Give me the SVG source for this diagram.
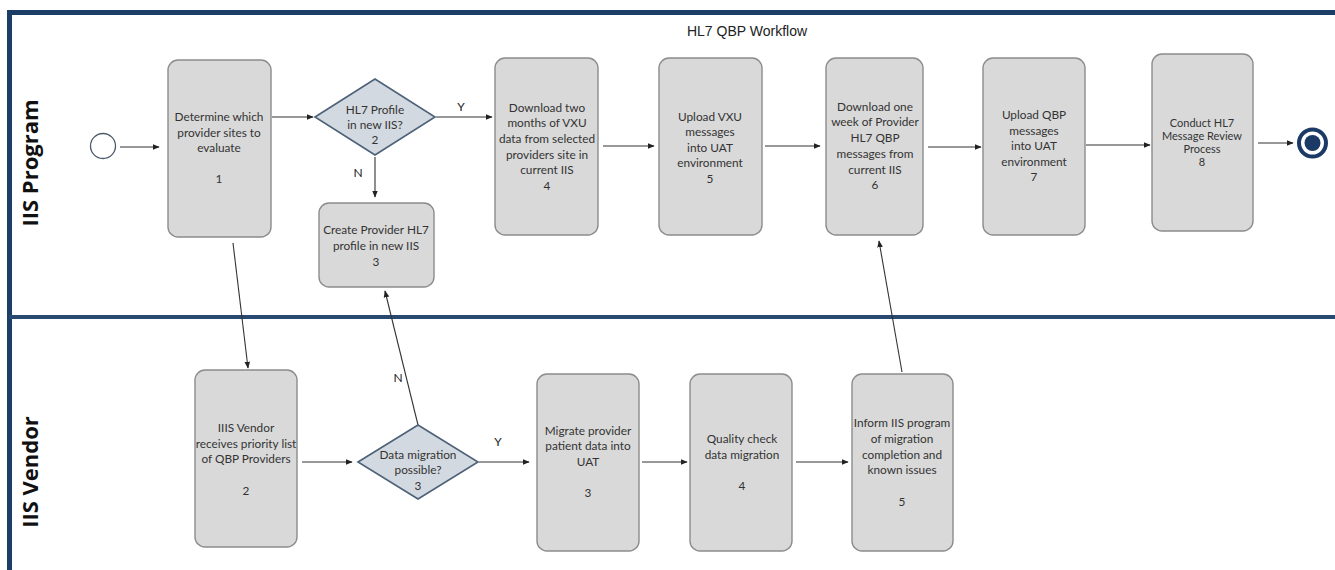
<svg xmlns="http://www.w3.org/2000/svg" width="1335" height="570" viewBox="0 0 1335 570">
<defs>
<marker id="arr" viewBox="0 0 10 10" refX="9" refY="5" markerWidth="7" markerHeight="7" markerUnits="userSpaceOnUse" orient="auto">
<path d="M0,1 L10,5 L0,9 z" fill="#222"/>
</marker>
<style>
.box{fill:#d9d9d9;stroke:#8c8c8c;stroke-width:1.4}
.dia{fill:#d3d9e0;stroke:#4d6178;stroke-width:1.6}
.t{font-family:Lato,"Open Sans","Liberation Sans",sans-serif;font-size:11.8px;fill:#333;text-anchor:middle}
.ts{font-family:Lato,"Open Sans","Liberation Sans",sans-serif;font-size:11px;fill:#333;text-anchor:middle}
.lbl{font-family:Lato,"Liberation Sans",sans-serif;font-size:12px;fill:#222;text-anchor:middle}
.lane{font-family:"Open Sans","Liberation Sans",sans-serif;font-size:22px;font-weight:bold;fill:#111;text-anchor:middle}
.c{stroke:#333;stroke-width:1.1;fill:none;marker-end:url(#arr)}
</style>
</defs>
<rect width="1335" height="570" fill="#fff"/>
<g id="frame">
<path d="M9.5,570 V12.5 H1335" fill="none" stroke="#1c3d66" stroke-width="5"/>
<line x1="9" y1="317" x2="1335" y2="317" stroke="#294a70" stroke-width="4"/>
<text class="lane" x="38" y="163" transform="rotate(-90 38 163)">IIS Program</text>
<text class="lane" x="38" y="472" transform="rotate(-90 38 472)">IIS Vendor</text>
<text x="747" y="36" text-anchor="middle" font-family="'Liberation Sans',Arial,sans-serif" font-size="14" fill="#222">HL7 QBP Workflow</text>
</g>
<g id="connectors">
<line class="c" x1="120" y1="147" x2="159" y2="147"/>
<line class="c" x1="272" y1="117" x2="313" y2="117"/>
<line class="c" x1="375" y1="157" x2="375" y2="197"/>
<line class="c" x1="436" y1="117" x2="492" y2="117"/>
<line class="c" x1="603" y1="146" x2="654" y2="146"/>
<line class="c" x1="765" y1="146" x2="820" y2="146"/>
<line class="c" x1="928" y1="147" x2="981" y2="147"/>
<line class="c" x1="1086" y1="145" x2="1150" y2="145"/>
<line class="c" x1="1258" y1="143" x2="1293" y2="143"/>
<line class="c" x1="233" y1="243" x2="248" y2="368"/>
<line class="c" x1="302" y1="462" x2="352" y2="462"/>
<line class="c" x1="418" y1="425" x2="385" y2="291"/>
<line class="c" x1="479" y1="462" x2="529" y2="462"/>
<line class="c" x1="642" y1="462" x2="687" y2="462"/>
<line class="c" x1="796" y1="462" x2="848" y2="462"/>
<line class="c" x1="902" y1="372" x2="879" y2="241"/>
<text class="lbl" x="358" y="177">N</text>
<text class="lbl" x="461" y="111">Y</text>
<text class="lbl" x="398" y="382">N</text>
<text class="lbl" x="498" y="446">Y</text>
</g>
<g id="start"><circle cx="103" cy="146" r="12.5" fill="#fff" stroke="#4a5a6a" stroke-width="1.3"/></g>
<g id="end"><circle cx="1312.5" cy="143" r="13.5" fill="#fff" stroke="#1b3a66" stroke-width="4"/><circle cx="1312.5" cy="143" r="8" fill="#1b3a66"/></g>
<g id="p1"><rect class="box" x="168" y="60" width="103" height="177" rx="10"/>
<text class="t" x="219"><tspan x="219" y="121">Determine which</tspan><tspan x="219" y="137">provider sites to</tspan><tspan x="219" y="152">evaluate</tspan><tspan x="219" y="183">1</tspan></text></g>
<g id="p2"><polygon class="dia" points="315,117 375,79 435,117 375,155"/>
<text class="t"><tspan x="375" y="114">HL7 Profile</tspan><tspan x="375" y="129">in new IIS?</tspan><tspan x="375" y="144">2</tspan></text></g>
<g id="p3"><rect class="box" x="319" y="203" width="115" height="84" rx="10"/>
<text class="t"><tspan x="376" y="234">Create Provider HL7</tspan><tspan x="376" y="250">profile in new IIS</tspan><tspan x="376" y="266">3</tspan></text></g>
<g id="p4"><rect class="box" x="495" y="58" width="103" height="177" rx="10"/>
<text class="t"><tspan x="547" y="112">Download two</tspan><tspan x="547" y="127">months of VXU</tspan><tspan x="547" y="143">data from selected</tspan><tspan x="547" y="159">providers site in</tspan><tspan x="547" y="174">current IIS</tspan><tspan x="547" y="190">4</tspan></text></g>
<g id="p5"><rect class="box" x="659" y="58" width="103" height="177" rx="10"/>
<text class="t"><tspan x="710" y="121">Upload VXU</tspan><tspan x="710" y="136">messages</tspan><tspan x="710" y="152">into UAT</tspan><tspan x="710" y="167">environment</tspan><tspan x="710" y="183">5</tspan></text></g>
<g id="p6"><rect class="box" x="826" y="58" width="97" height="177" rx="10"/>
<text class="t"><tspan x="875" y="111">Download one</tspan><tspan x="875" y="126">week of Provider</tspan><tspan x="875" y="142">HL7 QBP</tspan><tspan x="875" y="158">messages from</tspan><tspan x="875" y="174">current IIS</tspan><tspan x="875" y="189">6</tspan></text></g>
<g id="p7"><rect class="box" x="983" y="58" width="102" height="177" rx="10"/>
<text class="t"><tspan x="1034" y="119">Upload QBP</tspan><tspan x="1034" y="135">messages</tspan><tspan x="1034" y="150">into UAT</tspan><tspan x="1034" y="166">environment</tspan><tspan x="1034" y="181">7</tspan></text></g>
<g id="p8"><rect class="box" x="1152" y="54" width="101" height="177" rx="10"/>
<text class="ts"><tspan x="1202" y="127">Conduct HL7</tspan><tspan x="1202" y="140">Message Review</tspan><tspan x="1202" y="153">Process</tspan><tspan x="1202" y="166">8</tspan></text></g>
<g id="v2"><rect class="box" x="195" y="370" width="102" height="177" rx="10"/>
<text class="t"><tspan x="246" y="432">IIIS Vendor</tspan><tspan x="246" y="448">receives priority list</tspan><tspan x="246" y="463">of QBP Providers</tspan><tspan x="246" y="495">2</tspan></text></g>
<g id="v3d"><polygon class="dia" points="358,462 418,425 478,462 418,499"/>
<text class="t"><tspan x="418" y="459">Data migration</tspan><tspan x="418" y="474">possible?</tspan><tspan x="418" y="490">3</tspan></text></g>
<g id="v3"><rect class="box" x="537" y="374" width="102" height="177" rx="10"/>
<text class="t"><tspan x="588" y="435">Migrate provider</tspan><tspan x="588" y="450">patient data into</tspan><tspan x="588" y="466">UAT</tspan><tspan x="588" y="497">3</tspan></text></g>
<g id="v4"><rect class="box" x="690" y="374" width="102" height="177" rx="10"/>
<text class="t"><tspan x="742" y="443">Quality check</tspan><tspan x="742" y="459">data migration</tspan><tspan x="742" y="490">4</tspan></text></g>
<g id="v5"><rect class="box" x="852" y="374" width="101" height="177" rx="10"/>
<text class="t"><tspan x="902" y="427">Inform IIS program</tspan><tspan x="902" y="443">of migration</tspan><tspan x="902" y="459">completion and</tspan><tspan x="902" y="474">known issues</tspan><tspan x="902" y="506">5</tspan></text></g>
</svg>
